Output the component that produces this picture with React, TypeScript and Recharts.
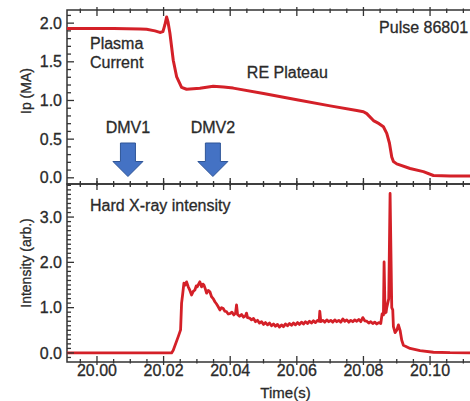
import React from 'react';
import { LineChart, Line, XAxis, YAxis, ReferenceDot, ReferenceArea, Label } from 'recharts';

// ---------- data ----------
const ipTimes = [
  19.991, 20.005, 20.013, 20.0149, 20.0174, 20.0189, 20.0198, 20.0204, 20.0209, 20.0213,
  20.0219, 20.0229, 20.0239, 20.0254, 20.0269, 20.0309, 20.0349, 20.038, 20.0409, 20.05,
  20.06, 20.07, 20.078, 20.08, 20.081, 20.083, 20.0847, 20.086, 20.087, 20.0878,
  20.0885, 20.089, 20.09, 20.094, 20.098, 20.101, 20.106, 20.121,
];
const ipValues = [
  1.93, 1.93, 1.925, 1.92, 1.9, 1.88, 1.89, 1.98, 2.08, 2.02,
  1.87, 1.52, 1.31, 1.17, 1.145, 1.157, 1.185, 1.175, 1.16, 1.09,
  1.01, 0.93, 0.87, 0.855, 0.83, 0.74, 0.7, 0.66, 0.575, 0.45,
  0.27, 0.21, 0.18, 0.12, 0.08, 0.03, 0.025, 0.025,
];

const hxrTimes = [
  19.991, 20.0224, 20.0229, 20.0244, 20.0251, 20.0254, 20.0257, 20.0261, 20.0265, 20.0269,
  20.0274, 20.0279, 20.0284, 20.0289, 20.0294, 20.0298, 20.0301, 20.0305, 20.0309, 20.0314,
  20.0318, 20.0321, 20.0325, 20.0329, 20.0334, 20.0339, 20.0344, 20.0349, 20.0354, 20.0359,
  20.0364, 20.0369, 20.0374, 20.0379, 20.0384, 20.0389, 20.0394, 20.0399, 20.0405, 20.0411,
  20.0416, 20.0419, 20.0422, 20.0428, 20.0434, 20.044, 20.0446, 20.0449, 20.0452, 20.0458,
  20.0464, 20.047, 20.0476, 20.0482, 20.0488, 20.0494, 20.05, 20.0506, 20.0512, 20.0518,
  20.0524, 20.053, 20.0536, 20.0542, 20.0548, 20.0554, 20.056, 20.0566, 20.0572, 20.0578,
  20.0584, 20.059, 20.0596, 20.0602, 20.0608, 20.0614, 20.062, 20.0626, 20.0632, 20.0638,
  20.0644, 20.065, 20.0656, 20.0662, 20.0667, 20.0669, 20.0672, 20.0678, 20.0684, 20.069,
  20.0696, 20.0702, 20.0708, 20.0714, 20.072, 20.0726, 20.0732, 20.0738, 20.0744, 20.075,
  20.0756, 20.0762, 20.0768, 20.0774, 20.078, 20.0786, 20.0792, 20.0798, 20.0804, 20.081,
  20.0816, 20.0822, 20.0828, 20.0834, 20.084, 20.0846, 20.0852, 20.0856, 20.086, 20.0862,
  20.0865, 20.0868, 20.087, 20.0876, 20.088, 20.0885, 20.0888, 20.089, 20.0895, 20.09,
  20.0905, 20.091, 20.0915, 20.092, 20.094, 20.097, 20.101, 20.106, 20.121,
];
const hxrValues = [
  0.0, 0.0, 0.06, 0.36, 0.51, 1.1, 1.28, 1.54, 1.5, 1.57,
  1.46, 1.38, 1.28, 1.36, 1.39, 1.48, 1.46, 1.52, 1.57, 1.46,
  1.52, 1.5, 1.42, 1.32, 1.38, 1.35, 1.24, 1.2, 1.13, 1.08,
  1.02, 0.95, 1.0, 0.98, 0.92, 0.91, 0.86, 0.87, 0.9, 0.84,
  0.88, 1.06, 0.85, 0.81, 0.85, 0.79, 0.82, 0.88, 0.78, 0.77,
  0.73, 0.76, 0.69, 0.72, 0.66, 0.69, 0.63, 0.67, 0.62, 0.66,
  0.6, 0.64, 0.59, 0.63, 0.57, 0.62, 0.58, 0.64, 0.6, 0.65,
  0.61, 0.66, 0.62, 0.67, 0.63, 0.68, 0.64, 0.69, 0.65, 0.7,
  0.66, 0.71, 0.67, 0.72, 0.7, 0.92, 0.69, 0.72, 0.68, 0.73,
  0.69, 0.72, 0.68, 0.73, 0.69, 0.72, 0.68, 0.75, 0.7, 0.73,
  0.68, 0.72, 0.69, 0.73, 0.7, 0.74, 0.69, 0.78, 0.71, 0.7,
  0.66, 0.69, 0.65, 0.68, 0.64, 0.67, 0.65, 0.86, 0.84, 2.01,
  0.88, 0.9, 1.0, 1.2, 3.52, 1.0, 0.95, 0.58, 0.45, 0.5,
  0.62, 0.5, 0.28, 0.17, 0.1, 0.05, 0.015, 0.005, 0.0,
];

const xMajorTicks = [20.0, 20.02, 20.04, 20.06, 20.08, 20.1];
const xMinorTicks = [
  19.995, 20.005, 20.01, 20.015, 20.025, 20.03, 20.035, 20.045, 20.05, 20.055,
  20.065, 20.07, 20.075, 20.085, 20.09, 20.095, 20.105, 20.11, 20.115,
];
const ipMajorTicks = [0.0, 0.5, 1.0, 1.5, 2.0];
const ipMinorTicks = [
  0.1, 0.2, 0.3, 0.4, 0.6, 0.7, 0.8, 0.9, 1.1, 1.2, 1.3, 1.4, 1.6, 1.7, 1.8, 1.9, 2.1,
];
const hxrMajorTicks = [0.0, 1.0, 2.0, 3.0];
const hxrMinorTicks = [
  -0.1, 0.1, 0.2, 0.3, 0.4, 0.5, 0.6, 0.7, 0.8, 0.9, 1.1, 1.2, 1.3, 1.4, 1.5, 1.6, 1.7, 1.8, 1.9,
  2.1, 2.2, 2.3, 2.4, 2.5, 2.6, 2.7, 2.8, 2.9, 3.1, 3.2, 3.3, 3.4, 3.5, 3.6, 3.7,
];

const X_DOMAIN: [number, number] = [19.991, 20.121];
const IP_DOMAIN: [number, number] = [-0.08, 2.17];
const HXR_DOMAIN: [number, number] = [-0.2, 3.73];

const ipData = ipTimes.map((t, i) => ({ t, ip: ipValues[i] }));
const hxrData = hxrTimes.map((t, i) => ({ t, hxr: hxrValues[i] }));

// ---------- styles ----------
const FONT = '"Liberation Sans", Arial, Helvetica, sans-serif';
const TEXT = '#2a2a2a';
const FRAME = '#333333';
const RED = '#d42028';
const textStroke = { stroke: TEXT, strokeWidth: 0.3 };

function XLabelTick(props: any) {
  const x = Number(props.x);
  const y = Number(props.y);
  const v = Number(props.payload.value);
  return (
    <text x={x} y={y} dy="0.71em" textAnchor="middle" fontSize={16} fontFamily={FONT} fill={TEXT} {...textStroke}>
      {v.toFixed(2)}
    </text>
  );
}

function YLabelTick(props: any) {
  const x = Number(props.x);
  const y = Number(props.y);
  const v = Number(props.payload.value);
  return (
    <text x={x} y={y} dy="0.355em" textAnchor="end" fontSize={16} fontFamily={FONT} fill={TEXT} {...textStroke}>
      {v.toFixed(1)}
    </text>
  );
}

// tick mark shape: direction (dx, dy) inward, length inside, length outside
const tickMark = (dx: number, dy: number, len: number, out: number) => (p: any) => {
  const cx = Number(p.cx);
  const cy = Number(p.cy);
  const d = `M${cx - dx * out},${cy - dy * out}L${cx + dx * len},${cy + dy * len}`;
  return <path d={d} stroke={FRAME} strokeWidth={1.3} fill="none" />;
};

const yTitle = (title: string, dx: number, dy: number) => (props: any) => {
  const vb = props.viewBox || { x: 0, y: 0, width: 0, height: 0 };
  const cx = Number(vb.x) + dx;
  const cy = Number(vb.y) + Number(vb.height) / 2 + dy;
  return (
    <text
      x={cx}
      y={cy}
      transform={`rotate(-90, ${cx}, ${cy})`}
      textAnchor="middle"
      dominantBaseline="central"
      fontSize={14}
      fontFamily={FONT}
      fill={TEXT}
      {...textStroke}
    >
      {title}
    </text>
  );
};

const textShape = (label: string, anchor: 'start' | 'middle' | 'end') => (p: any) => (
  <text x={p.cx} y={p.cy} textAnchor={anchor} fontSize={16} fontFamily={FONT} fill={TEXT} {...textStroke}>
    {label}
  </text>
);

const arrowShape = (p: any) => {
  const cx = Number(p.cx);
  const cy = Number(p.cy);
  const pts = [
    [cx - 7.5, cy],
    [cx + 7.5, cy],
    [cx + 7.5, cy + 18.5],
    [cx + 15, cy + 18.5],
    [cx, cy + 33.5],
    [cx - 15, cy + 18.5],
    [cx - 7.5, cy + 18.5],
  ]
    .map((q) => q.join(','))
    .join(' ');
  return <polygon points={pts} fill="#4472c4" stroke="#2f5597" strokeWidth={1} />;
};

const ipAnnotations = [
  { t: 19.9979, v: 1.66, label: 'Plasma', anchor: 'start' as const },
  { t: 19.9979, v: 1.42, label: 'Current', anchor: 'start' as const },
  { t: 20.045, v: 1.29, label: 'RE Plateau', anchor: 'start' as const },
  { t: 20.0847, v: 1.87, label: 'Pulse 86801', anchor: 'start' as const },
  { t: 20.0093, v: 0.58, label: 'DMV1', anchor: 'middle' as const },
  { t: 20.0348, v: 0.58, label: 'DMV2', anchor: 'middle' as const },
];
const arrowTimes = [20.0093, 20.0348];
const arrowTop = 0.45;

function frameTicks(yDomain: [number, number], yMajors: number[], yMinors: number[]) {
  const out: React.ReactNode[] = [];
  const common = { xAxisId: 'x', yAxisId: 'y', r: 0, ifOverflow: 'visible' as const };
  xMajorTicks.forEach((t) => {
    out.push(<ReferenceDot key={`tM${t}`} {...common} x={t} y={yDomain[1]} shape={tickMark(0, 1, 6, 3)} />);
    out.push(<ReferenceDot key={`bM${t}`} {...common} x={t} y={yDomain[0]} shape={tickMark(0, -1, 6, 3)} />);
  });
  xMinorTicks.forEach((t) => {
    out.push(<ReferenceDot key={`tm${t}`} {...common} x={t} y={yDomain[1]} shape={tickMark(0, 1, 3, 1.5)} />);
    out.push(<ReferenceDot key={`bm${t}`} {...common} x={t} y={yDomain[0]} shape={tickMark(0, -1, 3, 1.5)} />);
  });
  yMajors.forEach((v) => {
    out.push(<ReferenceDot key={`lM${v}`} {...common} x={X_DOMAIN[0]} y={v} shape={tickMark(1, 0, 7, 0)} />);
  });
  yMinors.forEach((v) => {
    out.push(<ReferenceDot key={`lm${v}`} {...common} x={X_DOMAIN[0]} y={v} shape={tickMark(1, 0, 4, 0)} />);
  });
  return out;
}

function frameRect(yDomain: [number, number]) {
  return (
    <ReferenceArea
      xAxisId="x"
      yAxisId="y"
      x1={X_DOMAIN[0]}
      x2={X_DOMAIN[1]}
      y1={yDomain[0]}
      y2={yDomain[1]}
      fill="none"
      fillOpacity={0}
      stroke={FRAME}
      strokeWidth={1.5}
      strokeOpacity={1}
      ifOverflow="visible"
    />
  );
}

export default function App() {
  return (
    <div
      style={{
        position: 'absolute',
        left: 0,
        top: 0,
        width: 470,
        height: 401,
        overflow: 'hidden',
        background: '#ffffff',
      }}
    >
      <div style={{ position: 'absolute', left: 0, top: 0 }}>
        <LineChart width={505} height={186} data={ipData} margin={{ top: 10, right: 5, bottom: 2, left: 0 }}>
          <XAxis xAxisId="x" type="number" dataKey="t" domain={X_DOMAIN} allowDataOverflow hide />
          <YAxis
            yAxisId="y"
            type="number"
            domain={IP_DOMAIN}
            allowDataOverflow
            ticks={ipMajorTicks}
            interval={0}
            width={67}
            tickSize={0}
            tickMargin={5}
            tickLine={false}
            axisLine={false}
            tick={<YLabelTick />}
          >
            <Label content={yTitle('Ip (MA)', 25.5, -6)} />
          </YAxis>
          {frameRect(IP_DOMAIN)}
          {frameTicks(IP_DOMAIN, ipMajorTicks, ipMinorTicks)}
          <Line
            xAxisId="x"
            yAxisId="y"
            type="linear"
            dataKey="ip"
            stroke={RED}
            strokeWidth={3}
            dot={false}
            isAnimationActive={false}
            strokeLinejoin="round"
          />
          {ipAnnotations.map((a) => (
            <ReferenceDot key={a.label} xAxisId="x" yAxisId="y" x={a.t} y={a.v} r={0} shape={textShape(a.label, a.anchor)} />
          ))}
          {arrowTimes.map((t) => (
            <ReferenceDot key={t} xAxisId="x" yAxisId="y" x={t} y={arrowTop} r={0} shape={arrowShape} />
          ))}
        </LineChart>
      </div>
      <div style={{ position: 'absolute', left: 0, top: 176 }}>
        <LineChart width={505} height={225} data={hxrData} margin={{ top: 8, right: 5, bottom: 0, left: 0 }}>
          <XAxis
            xAxisId="x"
            orientation="bottom"
            type="number"
            dataKey="t"
            domain={X_DOMAIN}
            allowDataOverflow
            ticks={xMajorTicks}
            interval={0}
            height={39}
            tickSize={0}
            tickMargin={3}
            tickLine={false}
            axisLine={false}
            tick={<XLabelTick />}
          >
            <Label
              content={(props: any) => {
                const vb = props.viewBox || { x: 0, y: 0, width: 0, height: 0 };
                return (
                  <text
                    x={Number(vb.x) + 218.5}
                    y={Number(vb.y) + 36}
                    textAnchor="middle"
                    fontSize={15}
                    fontFamily={FONT}
                    fill={TEXT}
                    {...textStroke}
                  >
                    Time(s)
                  </text>
                );
              }}
            />
          </XAxis>
          <YAxis
            yAxisId="y"
            type="number"
            domain={HXR_DOMAIN}
            allowDataOverflow
            ticks={hxrMajorTicks}
            interval={0}
            width={67}
            tickSize={0}
            tickMargin={5}
            tickLine={false}
            axisLine={false}
            tick={<YLabelTick />}
          >
            <Label content={yTitle('Intensity (arb.)', 25.5, -10)} />
          </YAxis>
          {frameRect(HXR_DOMAIN)}
          {frameTicks(HXR_DOMAIN, hxrMajorTicks, hxrMinorTicks)}
          <Line
            xAxisId="x"
            yAxisId="y"
            type="linear"
            dataKey="hxr"
            stroke={RED}
            strokeWidth={2.8}
            dot={false}
            isAnimationActive={false}
            strokeLinejoin="round"
          />
          <ReferenceDot
            xAxisId="x"
            yAxisId="y"
            x={19.9979}
            y={3.14}
            r={0}
            shape={textShape('Hard X-ray intensity', 'start')}
          />
        </LineChart>
      </div>
    </div>
  );
}
